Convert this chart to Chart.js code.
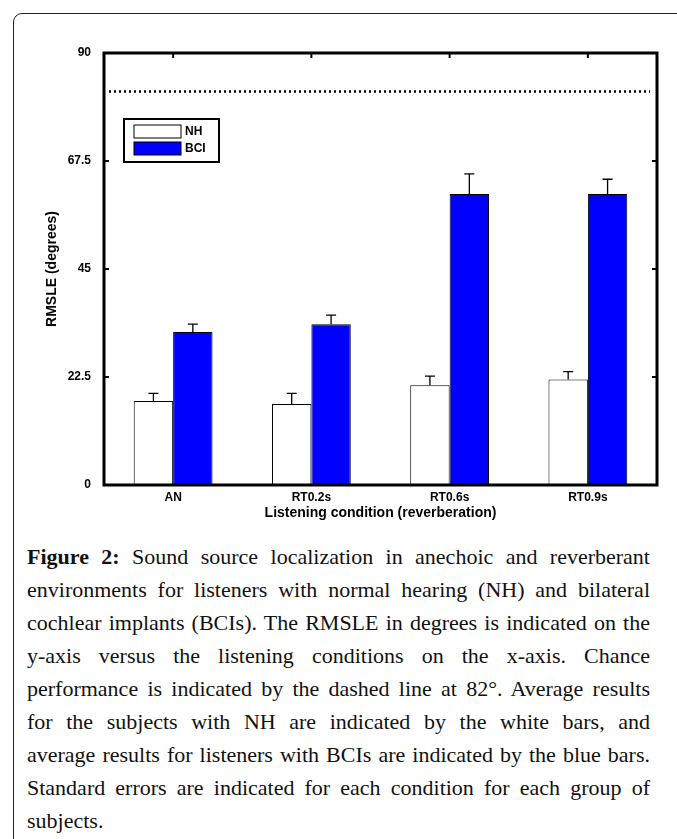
<!DOCTYPE html>
<html>
<head>
<meta charset="utf-8">
<script src="https://cdn.jsdelivr.net/npm/chart.js@4/dist/chart.umd.min.js"></script>
<style>
  html, body { margin: 0; padding: 0; background: #fff; }
  body { width: 677px; height: 839px; position: relative; overflow: hidden; }
  #frame {
    position: absolute; left: 13px; top: 13px; width: 720px; height: 900px;
    border: 1.3px solid #222; border-radius: 9px; box-sizing: border-box;
  }
  #wrap { position: absolute; left: 0; top: 0; width: 677px; height: 530px; }
  #caption {
    position: absolute; left: 27px; top: 540px; width: 623px;
    font-family: "Liberation Serif", "Times New Roman", serif;
    font-size: 22px; line-height: 33px; color: #111;
  }
  #caption div { text-align: justify; text-align-last: justify; white-space: nowrap; }
  #caption div.last { text-align-last: left; }
  #caption b { font-weight: bold; }
</style>
</head>
<body>
<div id="frame"></div>
<div id="wrap"><canvas id="chart" width="677" height="530"></canvas></div>
<div id="caption">
  <div><b>Figure 2:</b> Sound source localization in anechoic and reverberant</div>
  <div>environments for listeners with normal hearing (NH) and bilateral</div>
  <div>cochlear implants (BCIs). The RMSLE in degrees is indicated on the</div>
  <div>y-axis versus the listening conditions on the x-axis. Chance</div>
  <div>performance is indicated by the dashed line at 82°. Average results</div>
  <div>for the subjects with NH are indicated by the white bars, and</div>
  <div>average results for listeners with BCIs are indicated by the blue bars.</div>
  <div>Standard errors are indicated for each condition for each group of</div>
  <div class="last">subjects.</div>
</div>
<script>
// data
const conditions = ['AN', 'RT0.2s', 'RT0.6s', 'RT0.9s'];
const nhMean = [17.5, 16.9, 20.8, 22.0];
const nhErr = [1.6, 2.2, 1.9, 1.6];
const bciMean = [31.9, 33.5, 60.6, 60.6];
const bciErr = [1.6, 1.9, 4.2, 3.1];
const chanceLevel = 82;
const yTicks = [0, 22.5, 45, 67.5, 90];

const errors = [nhErr, bciErr];
const axisFont = '"Liberation Sans", Arial, sans-serif';

// upper error bars with caps
const errorBars = {
  id: 'errorBars',
  afterDatasetsDraw(chart) {
    const { ctx } = chart;
    const y = chart.scales.y;
    ctx.save();
    ctx.strokeStyle = '#000';
    ctx.lineWidth = 1.3;
    chart.data.datasets.forEach((ds, di) => {
      const meta = chart.getDatasetMeta(di);
      meta.data.forEach((bar, i) => {
        const y0 = y.getPixelForValue(ds.data[i]);
        const y1 = y.getPixelForValue(ds.data[i] + errors[di][i]);
        ctx.beginPath();
        ctx.moveTo(bar.x, y0);
        ctx.lineTo(bar.x, y1);
        ctx.moveTo(bar.x - 5, y1);
        ctx.lineTo(bar.x + 5, y1);
        ctx.stroke();
      });
    });
    ctx.restore();
  }
};

// chance line, axes box with inward ticks, legend
const decorations = {
  id: 'decorations',
  afterDraw(chart) {
    const { ctx, chartArea: a } = chart;
    const x = chart.scales.x;
    const y = chart.scales.y;
    ctx.save();

    // dotted chance line
    const yc = y.getPixelForValue(chanceLevel);
    ctx.strokeStyle = '#000';
    ctx.lineWidth = 2.5;
    ctx.setLineDash([2, 3]);
    ctx.beginPath();
    ctx.moveTo(a.left + 5, yc);
    ctx.lineTo(a.right - 7, yc);
    ctx.stroke();
    ctx.setLineDash([]);

    // box
    ctx.lineWidth = 3;
    ctx.strokeRect(a.left, a.top, a.right - a.left, a.bottom - a.top);

    // inward ticks
    ctx.lineWidth = 2;
    ctx.beginPath();
    yTicks.forEach(v => {
      const p = y.getPixelForValue(v);
      ctx.moveTo(a.left, p); ctx.lineTo(a.left + 5, p);
      ctx.moveTo(a.right, p); ctx.lineTo(a.right - 5, p);
    });
    conditions.forEach((c, i) => {
      const p = x.getPixelForValue(i);
      ctx.moveTo(p, a.top); ctx.lineTo(p, a.top + 5);
    });
    ctx.stroke();

    // legend
    const lx = a.left + 20, ly = a.top + 66;
    ctx.fillStyle = '#fff';
    ctx.fillRect(lx, ly, 95, 43);
    ctx.lineWidth = 2;
    ctx.strokeRect(lx, ly, 95, 43);
    ctx.lineWidth = 1;
    chart.data.datasets.forEach((ds, i) => {
      const sy = ly + 6 + i * 17;
      ctx.fillStyle = ds.backgroundColor;
      ctx.fillRect(lx + 10, sy, 47, 13);
      ctx.strokeStyle = '#000';
      ctx.strokeRect(lx + 10, sy, 47, 13);
      ctx.fillStyle = '#000';
      ctx.font = 'bold 12px ' + axisFont;
      ctx.textBaseline = 'middle';
      ctx.fillText(ds.label, lx + 61, sy + 7);
    });
    ctx.restore();
  }
};

new Chart(document.getElementById('chart'), {
  type: 'bar',
  data: {
    labels: conditions,
    datasets: [
      { label: 'NH', data: nhMean, backgroundColor: '#ffffff', borderColor: '#000', borderWidth: 1 },
      { label: 'BCI', data: bciMean, backgroundColor: '#0000ff', borderColor: '#000', borderWidth: 1 }
    ]
  },
  options: {
    responsive: false,
    animation: false,
    categoryPercentage: 0.57,
    barPercentage: 1.0,
    layout: { padding: { left: 0, top: 53, right: 20, bottom: 0 } },
    plugins: { legend: { display: false }, tooltip: { enabled: false } },
    scales: {
      x: {
        grid: { display: false },
        border: { display: false },
        ticks: { color: '#000', padding: -3, font: { family: axisFont, size: 12, weight: 'bold' } },
        title: {
          display: true, text: 'Listening condition (reverberation)', color: '#000',
          padding: { top: 0, bottom: 8 },
          font: { family: axisFont, size: 14, weight: 'bold' }
        },
        afterFit(scale) { scale.height = 45; }
      },
      y: {
        min: 0, max: 90,
        afterBuildTicks(scale) { scale.ticks = yTicks.map(v => ({ value: v })); },
        grid: { display: false },
        border: { display: false },
        ticks: { color: '#000', padding: 5, font: { family: axisFont, size: 12, weight: 'bold' } },
        title: {
          display: true, text: 'RMSLE (degrees)', color: '#000',
          padding: { top: 44, bottom: 0 },
          font: { family: axisFont, size: 14, weight: 'bold' }
        },
        afterFit(scale) { scale.width = 104; }
      }
    }
  },
  plugins: [errorBars, decorations]
});
</script>
</body>
</html>
